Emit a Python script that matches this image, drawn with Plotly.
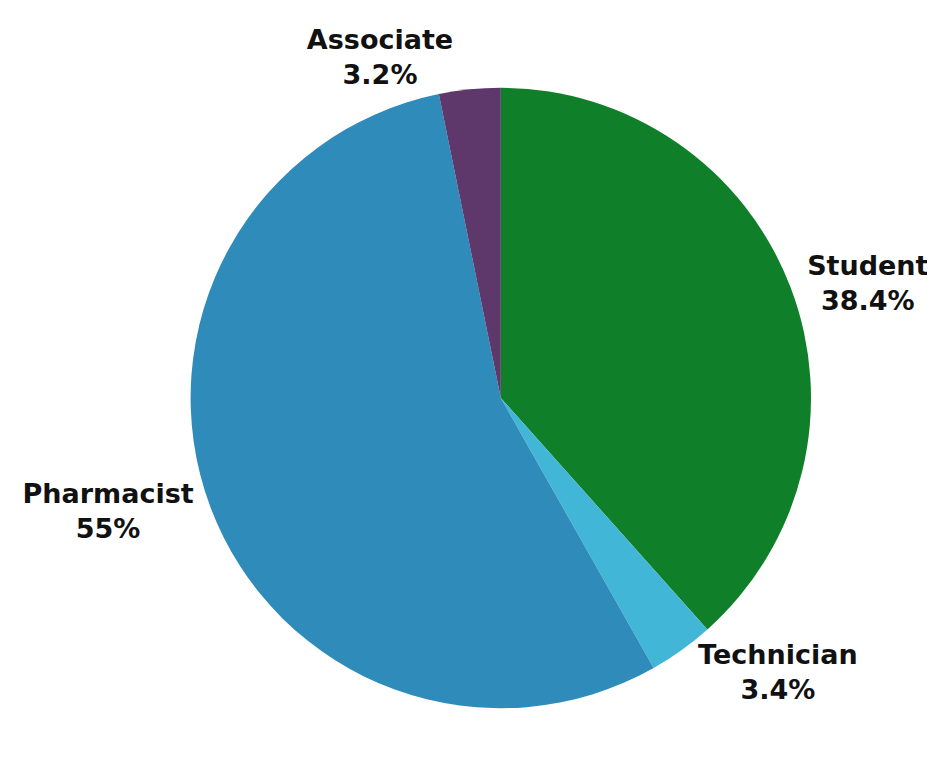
import plotly.graph_objects as go

labels = ["Student", "Technician", "Pharmacist", "Associate"]
values = [38.4, 3.4, 55.0, 3.2]
colors = ["#0f7f29", "#41b6d6", "#2e8bba", "#5e376b"]

fig = go.Figure(go.Pie(
    labels=labels,
    values=values,
    sort=False,
    direction="clockwise",
    rotation=0,
    marker=dict(colors=colors, line=dict(width=0)),
    textinfo="label+percent",
    textposition="outside",
    textfont=dict(family="DejaVu Sans, sans-serif", size=27, color="#111111", weight="bold"),
    showlegend=False,
    domain=dict(x=[0.06, 1.0], y=[0.0, 1.0]),
))

fig.update_layout(
    width=935, height=761,
    margin=dict(l=0, r=0, t=2, b=50),
    paper_bgcolor="white",
    plot_bgcolor="white",
)

fig.write_html("out.html")
